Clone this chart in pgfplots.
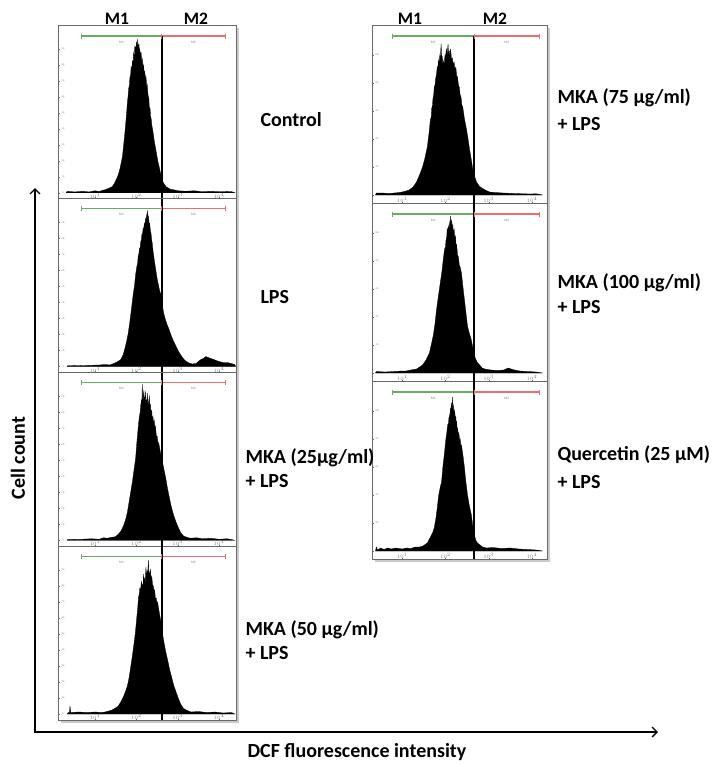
\documentclass[border=0pt]{standalone}
\usepackage{pgfplots}
\pgfplotsset{compat=1.18}
\usepackage{fontspec}
\setmainfont{Carlito}
\usetikzlibrary{arrows.meta,shadows}
\definecolor{gateg}{RGB}{100,175,100}
\definecolor{gater}{RGB}{235,110,110}
\definecolor{panelframe}{RGB}{105,105,105}
\newcommand{\lab}{\bfseries\fontsize{20}{23}\selectfont}
\newcommand{\mlab}{\bfseries\fontsize{17.5}{20}\selectfont}

% #1 gate (M2 start), #2 M1 start, #3 M2 end, #4 height of the bars
\newcommand{\gatebars}[4]{%
  \addplot[draw=gateg, line width=1.1pt, mark=|, mark size=2.5pt,
    mark options={draw=gateg, line width=0.8pt}] coordinates {(#2,#4)(#1,#4)};
  \addplot[draw=gater, line width=1.1pt, mark=|, mark size=2.5pt,
    mark options={draw=gater, line width=0.8pt}] coordinates {(#1,#4)(#3,#4)};
  \node[font=\fontsize{3.5}{4}\selectfont, text=gray] at (axis cs:{(#1+#2)/2},#4-6) {M1};
  \node[font=\fontsize{3.5}{4}\selectfont, text=gray] at (axis cs:{(#1+#3)/2},#4-6) {M2};
}

\pgfplotsset{
  facs/.style={
    scale only axis, anchor=north west,
    axis background/.style={fill=white, drop shadow={shadow xshift=2.5pt, shadow yshift=-2.5pt, fill=gray!70, opacity=0.6}},
    axis line style={panelframe, line width=0.9pt},
    tick align=inside, major tick length=1.5pt, tick style={panelframe, line width=0.3pt},
    xtick pos=lower, ytick pos=left,
    xtick={1,2,3,4}, xticklabels={$10^1$,$10^2$,$10^3$,$10^4$},
    xticklabel style={font=\fontsize{3}{3}\selectfont, text=gray, anchor=center, yshift=3pt},
    yticklabel style={font=\fontsize{2.5}{3}\selectfont, text=gray, anchor=center, xshift=5pt},
  },
  leftp/.style={facs, width=178pt, height=173.75pt, xmin=0.10, xmax=4.41,
    ymin=-6, ymax=167.75, ytick={0,16,...,150}, yticklabels={0,10,20,30,40,50,60,70,80,90}},
  rightp/.style={facs, width=175pt, height=178pt, xmin=0.30, xmax=4.35,
    ymin=-8, ymax=170, ytick={0,28,...,150}, yticklabels={0,20,40,60,80,100}},
  hist/.style={fill=black, draw=black, line width=0.3pt},
  gate/.style={black, line width=2pt},
}

\begin{document}
\begin{tikzpicture}
\begin{scope}[x=1pt, y=-1pt]
\useasboundingbox (0,0) rectangle (706,766);
\end{scope}

% ---------- left column ----------
% Control
\begin{axis}[leftp, at={(58pt,-25pt)}]
\addplot[hist] coordinates {
(0.30,0)(0.32,1.5)(0.50,0.8)(0.70,1.5)(0.85,0.8)(1.00,2)(1.10,1.2)(1.18,2.5)(1.24,3)
(1.30,4)(1.36,5)(1.41,6)(1.46,9)(1.51,13)(1.56,18)(1.60,24)(1.63,30)(1.66,36)(1.69,48)
(1.72,60)(1.75,74)(1.78,90)(1.80,98)(1.81,104)(1.83,108)(1.84,115)(1.86,118)(1.87,126)
(1.89,124)(1.90,132)(1.92,130)(1.93,140)(1.95,136)(1.96,147)(1.97,141)(1.98,146)(1.99,140)
(2.00,151)(2.01,145)(2.02,154)(2.03,143)(2.04,148)(2.05,141)(2.06,150)(2.07,139)(2.08,143)
(2.10,136)(2.11,141)(2.13,131)(2.14,134)(2.16,125)(2.17,128)(2.19,119)(2.20,121)(2.22,113)
(2.23,116)(2.25,106)(2.26,108)(2.28,98)(2.30,94)(2.31,86)(2.33,84)(2.34,77)(2.36,73)
(2.37,68)(2.40,61)(2.43,52)(2.46,45)(2.49,38)(2.52,31)(2.55,26)(2.58,20)(2.61,15)(2.64,11)
(2.68,8)(2.72,6)(2.76,5)(2.82,3.5)(2.90,3)(3.00,2)(3.20,1.5)(3.40,2)(3.60,1)(3.80,1.5)
(4.00,1)(4.30,1.2)(4.38,0)
} \closedcycle;
\gatebars{2.61}{0.66}{4.15}{156.75}
\addplot[gate] coordinates {(2.61,-6)(2.61,156.75)};
\end{axis}

% LPS
\begin{axis}[leftp, at={(58pt,-198.75pt)}]
\addplot[hist] coordinates {
(0.32,0)(0.34,1)(0.60,0.8)(0.90,1.2)(1.10,1.5)(1.25,2)(1.35,1.5)(1.45,3)(1.55,5)(1.62,7)
(1.68,12)(1.72,18)(1.76,25)(1.80,33)(1.84,45)(1.88,58)(1.92,72)(1.95,80)(1.98,92)(2.01,100)
(2.03,104)(2.04,110)(2.06,113)(2.07,118)(2.09,119)(2.10,124)(2.12,127)(2.13,132)(2.15,133)
(2.16,138)(2.18,139)(2.19,143)(2.21,144)(2.22,148)(2.24,149)(2.25,152)(2.26,150)(2.27,156)
(2.28,149)(2.29,150)(2.31,142)(2.32,143)(2.34,135)(2.35,134)(2.37,126)(2.38,124)(2.40,116)
(2.41,113)(2.43,107)(2.44,104)(2.47,96)(2.50,88)(2.53,82)(2.56,76)(2.59,72)(2.62,63)(2.66,53)
(2.70,47)(2.74,42)(2.78,38)(2.84,31)(2.90,25)(2.96,20)(3.02,15)(3.08,11)(3.15,7)(3.21,5)
(3.27,3.5)(3.35,2.5)(3.44,3)(3.50,5)(3.56,7)(3.62,8)(3.68,10)(3.74,9)(3.80,8)(3.87,7)
(3.93,6)(4.00,5)(4.10,4)(4.20,4)(4.29,3)(4.38,2)(4.40,0)
} \closedcycle;
\gatebars{2.61}{0.66}{4.15}{157.75}
\addplot[gate] coordinates {(2.61,-6)(2.61,167.75)};
\end{axis}

% MKA 25
\begin{axis}[leftp, at={(58pt,-372.5pt)}]
\addplot[hist] coordinates {
(0.32,0)(0.34,1)(0.60,0.8)(0.90,1.5)(1.10,1)(1.20,2.5)(1.29,2)(1.40,3)(1.49,3.5)(1.56,6)
(1.62,9)(1.66,12)(1.70,16)(1.74,21)(1.78,28)(1.82,38)(1.86,48)(1.90,58)(1.94,70)(1.98,82)
(2.01,98)(2.04,112)(2.07,124)(2.09,128)(2.10,134)(2.12,140)(2.13,136)(2.14,156)(2.15,140)
(2.16,138)(2.17,146)(2.18,150)(2.19,139)(2.20,143)(2.21,137)(2.22,149)(2.23,141)(2.25,140)
(2.26,135)(2.27,147)(2.28,139)(2.29,138)(2.30,132)(2.31,145)(2.32,136)(2.34,136)(2.35,128)
(2.37,130)(2.38,122)(2.40,124)(2.41,117)(2.43,120)(2.45,112)(2.46,114)(2.48,105)(2.50,104)
(2.52,98)(2.54,97)(2.58,88)(2.63,78)(2.67,70)(2.71,62)(2.75,52)(2.79,44)(2.84,34)(2.90,25)
(2.96,18)(3.02,12)(3.08,7)(3.15,4)(3.22,3)(3.30,2)(3.45,2.5)(3.60,1.5)(3.80,2)(4.00,1)
(4.20,1.5)(4.38,0)
} \closedcycle;
\gatebars{2.61}{0.66}{4.15}{157.75}
\addplot[gate] coordinates {(2.61,-6)(2.61,167.75)};
\end{axis}

% MKA 50
\begin{axis}[leftp, at={(58pt,-546.25pt)}]
\addplot[hist] coordinates {
(0.32,0)(0.34,1)(0.38,2)(0.39,8)(0.41,1.5)(0.60,2)(0.80,1.5)(1.00,2)(1.15,1.5)(1.24,2)
(1.33,3)(1.41,4)(1.49,6)(1.56,8)(1.62,12)(1.68,17)(1.73,22)(1.78,28)(1.82,36)(1.85,44)
(1.89,55)(1.93,67)(1.97,80)(2.00,93)(2.03,106)(2.05,117)(2.07,120)(2.08,126)(2.10,124)
(2.12,133)(2.13,128)(2.14,130)(2.16,127)(2.17,140)(2.18,133)(2.20,136)(2.21,131)(2.23,147)
(2.24,138)(2.26,143)(2.27,137)(2.29,154)(2.30,139)(2.31,142)(2.32,137)(2.34,145)(2.35,134)
(2.37,138)(2.39,129)(2.41,128)(2.43,121)(2.44,124)(2.46,115)(2.48,116)(2.50,109)(2.51,112)
(2.55,102)(2.59,93)(2.62,83)(2.66,73)(2.71,62)(2.76,53)(2.80,45)(2.85,37)(2.90,29)(2.95,23)
(3.01,16)(3.07,10)(3.13,6)(3.20,4)(3.32,2)(3.50,2.5)(3.70,1.5)(3.90,2)(4.10,1)(4.30,1.5)
(4.38,0)
} \closedcycle;
\gatebars{2.61}{0.66}{4.15}{157.75}
\addplot[gate] coordinates {(2.61,-6)(2.61,167.75)};
\end{axis}

% ---------- right column ----------
% MKA 75
\begin{axis}[rightp, at={(372pt,-25pt)}]
\addplot[hist] coordinates {
(0.38,0)(0.40,2)(0.53,2)(0.70,1.5)(0.93,2.5)(1.05,3.5)(1.16,5)(1.25,8)(1.33,13)(1.40,20)
(1.47,28)(1.52,36)(1.58,48)(1.62,62)(1.65,75)(1.67,78)(1.68,86)(1.70,90)(1.71,96)(1.73,101)
(1.74,108)(1.76,110)(1.77,116)(1.79,120)(1.81,128)(1.82,126)(1.84,135)(1.85,131)(1.87,140)
(1.88,136)(1.90,151)(1.91,140)(1.93,138)(1.94,130)(1.96,134)(1.97,131)(1.99,140)(2.00,136)
(2.02,146)(2.04,140)(2.06,151)(2.07,142)(2.09,144)(2.10,138)(2.12,146)(2.14,135)(2.16,137)
(2.18,130)(2.20,133)(2.22,125)(2.24,128)(2.26,119)(2.28,118)(2.30,110)(2.32,108)(2.34,100)
(2.36,98)(2.38,90)(2.40,88)(2.44,76)(2.49,65)(2.53,54)(2.56,45)(2.60,35)(2.63,26)(2.67,19)
(2.72,13)(2.78,9)(2.84,7)(2.92,5)(3.02,3)(3.15,2.5)(3.33,2)(3.60,1.5)(3.95,1)(4.10,1.2)
(4.25,0)
} \closedcycle;
\gatebars{2.67}{0.77}{4.17}{159}
\addplot[gate] coordinates {(2.67,-8)(2.67,159)};
\end{axis}

% MKA 100
\begin{axis}[rightp, at={(372pt,-203pt)}]
\addplot[hist] coordinates {
(0.38,0)(0.40,1.5)(0.60,1)(0.80,1.5)(1.00,2)(1.09,2)(1.20,3)(1.33,4)(1.40,6)(1.47,8)
(1.55,13)(1.63,20)(1.68,30)(1.72,38)(1.76,50)(1.79,62)(1.82,72)(1.86,84)(1.89,93)(1.92,102)
(1.95,114)(1.98,124)(2.00,126)(2.01,132)(2.03,136)(2.04,145)(2.05,140)(2.07,147)(2.08,143)
(2.10,151)(2.11,147)(2.12,157)(2.13,150)(2.14,153)(2.15,145)(2.17,149)(2.18,140)(2.20,144)
(2.22,134)(2.23,137)(2.25,126)(2.26,128)(2.28,118)(2.30,116)(2.32,108)(2.34,106)(2.37,100)
(2.41,84)(2.44,73)(2.48,58)(2.51,47)(2.55,40)(2.60,33)(2.64,24)(2.67,17)(2.73,11)(2.79,8)
(2.85,5)(2.91,4)(3.05,3)(3.20,2.5)(3.35,3)(3.45,5)(3.52,4)(3.60,3)(3.72,2)(3.90,1.5)
(4.10,1)(4.25,0)
} \closedcycle;
\gatebars{2.67}{0.77}{4.17}{159}
\addplot[gate] coordinates {(2.67,-8)(2.67,170)};
\end{axis}

% Quercetin
\begin{axis}[rightp, at={(372pt,-381pt)}]
\addplot[hist] coordinates {
(0.38,0)(0.40,4)(0.43,1)(0.50,3)(0.58,1.5)(0.66,3)(0.75,2)(0.85,3)(1.00,2)(1.10,3)(1.20,2.5)
(1.30,4)(1.40,4)(1.48,5)(1.58,8)(1.64,13)(1.70,18)(1.74,23)(1.78,33)(1.81,43)(1.84,55)
(1.88,64)(1.91,69)(1.94,84)(1.98,99)(2.01,112)(2.03,118)(2.05,126)(2.07,128)(2.08,133)
(2.10,136)(2.12,143)(2.13,140)(2.14,148)(2.15,144)(2.16,154)(2.17,143)(2.18,146)(2.20,137)
(2.21,141)(2.23,132)(2.24,134)(2.25,127)(2.26,130)(2.27,121)(2.28,123)(2.30,116)(2.31,118)
(2.33,110)(2.34,112)(2.36,104)(2.37,106)(2.41,94)(2.44,83)(2.47,70)(2.51,56)(2.55,46)
(2.60,36)(2.63,26)(2.67,16)(2.70,11)(2.74,8)(2.80,6)(2.86,4)(2.95,3)(3.10,3.5)(3.30,2.5)
(3.50,3)(3.70,2)(3.90,1.5)(4.10,1)(4.25,0)
} \closedcycle;
\gatebars{2.67}{0.77}{4.17}{159}
\addplot[gate] coordinates {(2.67,-8)(2.67,170)};
\end{axis}

\begin{scope}[x=1pt, y=-1pt]
% gate headers
\node[font=\mlab] at (117,19) {M1};
\node[font=\mlab] at (196,19) {M2};
\node[font=\mlab] at (410,19) {M1};
\node[font=\mlab] at (495,19) {M2};

% condition labels
\node[font=\lab, anchor=west] at (257,120) {Control};
\node[font=\lab, anchor=west] at (257,297) {LPS};
\node[font=\lab, anchor=west] at (242,458) {MKA (25µg/ml)};
\node[font=\lab, anchor=west] at (242,481) {+ LPS};
\node[font=\lab, anchor=west] at (554,98) {MKA (75 µg/ml)};
\node[font=\lab, anchor=west] at (554,124) {+ LPS};
\node[font=\lab, anchor=west] at (242,630) {MKA (50 µg/ml)};
\node[font=\lab, anchor=west] at (242,653) {+ LPS};
\node[font=\lab, anchor=west] at (554,283) {MKA (100 µg/ml)};
\node[font=\lab, anchor=west] at (554,307) {+ LPS};
\node[font=\lab, anchor=west] at (554,455) {Quercetin (25 µM)};
\node[font=\lab, anchor=west] at (554,482) {+ LPS};

% outer axes
\draw[line width=1.3pt, {Straight Barb[length=5pt,width=10pt]}-{Straight Barb[length=5pt,width=10pt]}]
  (35,188) -- (35,732) -- (658,732);
\node[font=\lab, rotate=90] at (18,458) {Cell count};
\node[font=\lab] at (357,752) {DCF fluorescence intensity};
\end{scope}
\end{tikzpicture}
\end{document}
